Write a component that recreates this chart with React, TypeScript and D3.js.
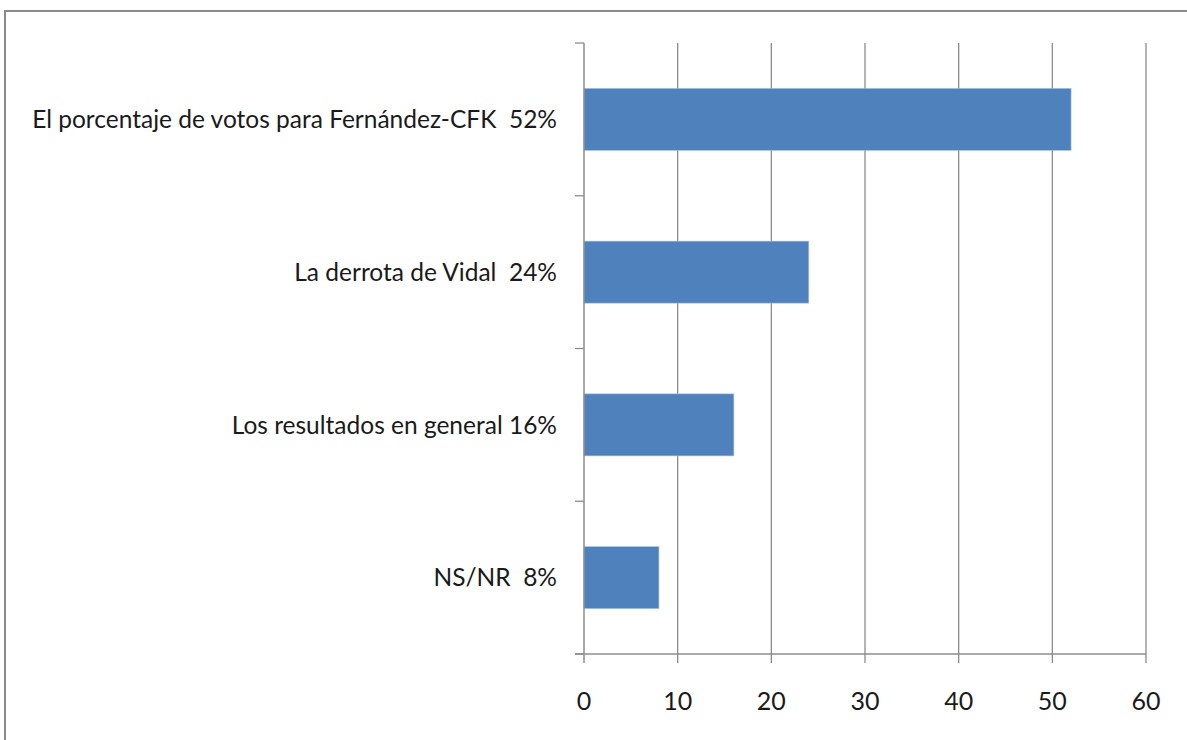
import React, { useEffect, useRef } from "react";
import * as d3 from "d3";

const categories = [
  "El porcentaje de votos para Fernández-CFK  52%",
  "La derrota de Vidal  24%",
  "Los resultados en general 16%",
  "NS/NR  8%",
];
const values = [52, 24, 16, 8];
const xTicks = [0, 10, 20, 30, 40, 50, 60];

const W = 1187;
const H = 740;
const X0 = 584;
const X1 = 1146;
const Y0 = 43;
const Y1 = 654;
const FONT = "Lato, 'Open Sans', sans-serif";
const GRID = "#8c8c8c";
const BAR = "#4f81bd";

const App = () => {
  const svgRef = useRef<SVGSVGElement | null>(null);

  useEffect(() => {
    if (!svgRef.current) return;
    const svg = d3.select(svgRef.current);
    svg.selectAll("*").remove();

    // outer frame (runs off the right/bottom edge)
    svg.append("rect")
      .attr("x", 5).attr("y", 11)
      .attr("width", W + 20).attr("height", H + 20)
      .attr("fill", "#fff")
      .attr("stroke", "#8a8a8a").attr("stroke-width", 2);

    const x = d3.scaleLinear().domain([0, 60]).range([X0, X1]);
    const y = d3.scaleBand<string>()
      .domain(categories)
      .range([Y0, Y1])
      .paddingInner(0.594)
      .paddingOuter(0.297);
    const band = d3.scaleBand<string>().domain(categories).range([Y0, Y1]);

    // vertical gridlines
    xTicks.filter(t => t > 0).forEach(t => {
      svg.append("line")
        .attr("x1", x(t)).attr("x2", x(t))
        .attr("y1", Y0).attr("y2", Y1 + 9)
        .attr("stroke", GRID).attr("stroke-width", 1.3);
    });

    // bars
    categories.forEach((c, i) => {
      svg.append("rect")
        .attr("x", x(0)).attr("y", y(c)!)
        .attr("width", x(values[i]) - x(0))
        .attr("height", y.bandwidth())
        .attr("fill", BAR)
        .attr("stroke", "#a8c1e0").attr("stroke-width", 0.6);
    });

    // y axis line + category ticks
    svg.append("line")
      .attr("x1", X0).attr("x2", X0).attr("y1", Y0).attr("y2", Y1 + 9)
      .attr("stroke", GRID).attr("stroke-width", 1.5);
    const edges = categories.map(c => band(c)!).concat([Y1]);
    edges.forEach(v => {
      svg.append("line")
        .attr("x1", X0 - 9).attr("x2", X0).attr("y1", v).attr("y2", v)
        .attr("stroke", GRID).attr("stroke-width", 1.3);
    });

    // x axis line
    svg.append("line")
      .attr("x1", X0 - 9).attr("x2", X1).attr("y1", Y1).attr("y2", Y1)
      .attr("stroke", GRID).attr("stroke-width", 1.5);

    // tick labels
    xTicks.forEach(t => {
      svg.append("text")
        .attr("x", x(t)).attr("y", 710)
        .attr("text-anchor", "middle")
        .attr("font-family", FONT).attr("font-size", "25px")
        .attr("fill", "#1a1a1a")
        .text(t);
    });

    // category labels
    categories.forEach(c => {
      svg.append("text")
        .attr("x", X0 - 27)
        .attr("y", y(c)! + y.bandwidth() / 2)
        .attr("dy", "0.36em")
        .attr("text-anchor", "end")
        .attr("font-family", FONT).attr("font-size", "24.5px")
        .attr("fill", "#1a1a1a")
        .style("white-space", "pre")
        .text(c);
    });
  }, []);

  return (
    <svg
      ref={svgRef}
      width={W}
      height={H}
      style={{ position: "absolute", left: 0, top: 0, background: "#fff" }}
    />
  );
};

export default App;
